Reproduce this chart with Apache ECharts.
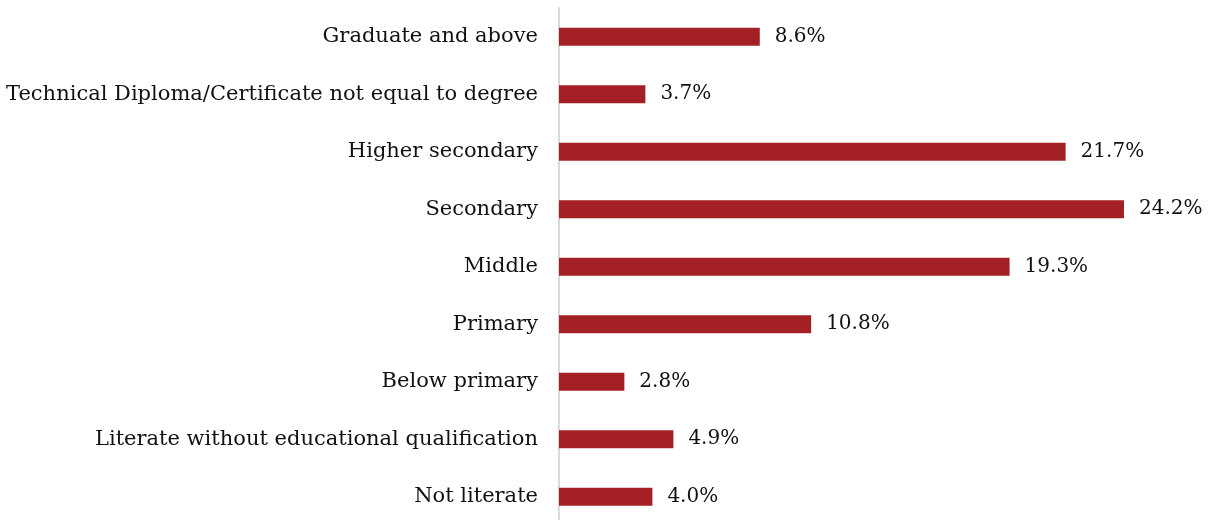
<!DOCTYPE html>
<html>
<head>
<meta charset="utf-8">
<script src="https://cdn.jsdelivr.net/npm/echarts@6/dist/echarts.min.js"></script>
<style>
  html, body { margin: 0; padding: 0; background: #ffffff; }
  #chart { width: 1215px; height: 520px; }
</style>
</head>
<body>
<div id="chart"></div>
<script>
// Education levels, listed bottom to top as drawn on the category axis
const categories = [
  'Not literate',
  'Literate without educational qualification',
  'Below primary',
  'Primary',
  'Middle',
  'Secondary',
  'Higher secondary',
  'Technical Diploma/Certificate not equal to degree',
  'Graduate and above'
];
// Share of each level, in percent
const shares = [4.0, 4.9, 2.8, 10.8, 19.3, 24.2, 21.7, 3.7, 8.6];

const FONT = 'DejaVu Serif';
const chart = echarts.init(document.getElementById('chart'));

chart.setOption({
  animation: false,
  grid: {
    left: 559, right: 49, top: 8, height: 517.5,
    containLabel: false,
    outerBoundsMode: 'none'
  },
  xAxis: {
    type: 'value',
    min: 0,
    max: 26,
    show: false
  },
  yAxis: {
    type: 'category',
    data: categories,
    axisLine: { show: true, lineStyle: { color: '#d9d9d9', width: 2 } },
    axisTick: { show: false },
    axisLabel: {
      margin: 21,
      color: '#111111',
      fontFamily: FONT,
      fontSize: 21
    }
  },
  series: [{
    type: 'bar',
    data: shares,
    barWidth: 18,
    itemStyle: { color: '#A32024' },
    label: {
      show: true,
      position: 'right',
      distance: 15,
      color: '#111111',
      fontFamily: FONT,
      fontSize: 20,
      formatter: p => p.value.toFixed(1) + '%'
    }
  }]
});
</script>
</body>
</html>
